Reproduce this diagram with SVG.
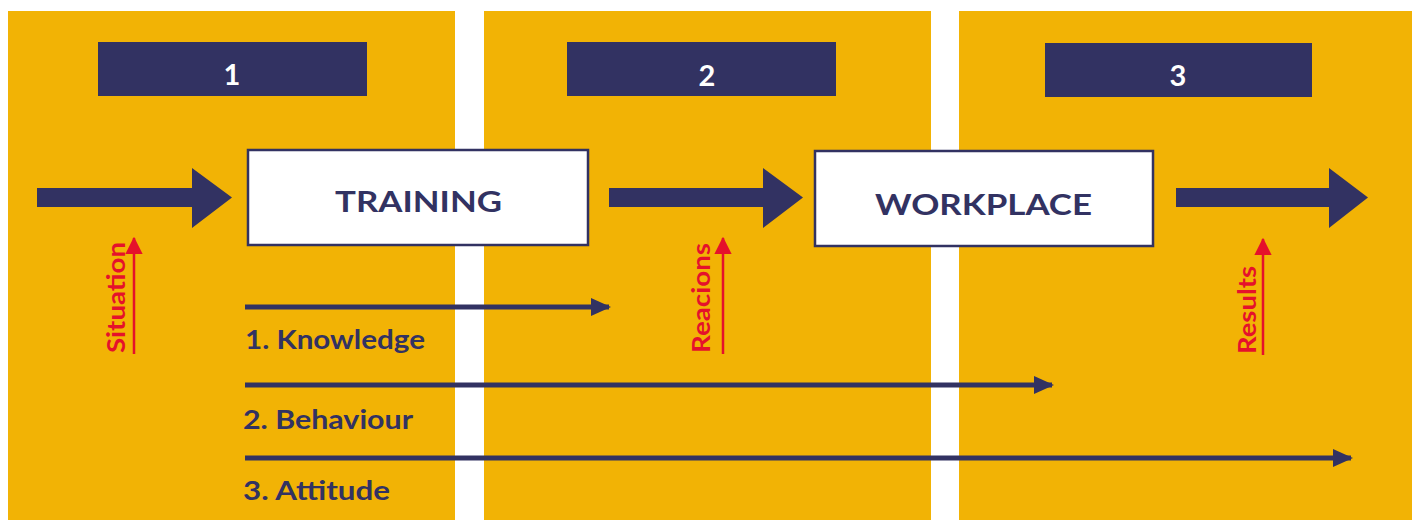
<svg xmlns="http://www.w3.org/2000/svg" width="1414" height="520" viewBox="0 0 1414 520">
<style>
.panel{fill:#F2B305}
.hdr{fill:#323262}
.hdrt{fill:#ffffff;font-family:Lato,"Open Sans",sans-serif;font-weight:700;font-size:29px;text-anchor:middle}
.box{fill:#ffffff;stroke:#323262;stroke-width:2.5}
.boxt{fill:#323262;font-family:Lato,"Open Sans",sans-serif;font-weight:700;font-size:28px}
.big{fill:#323262}
.thin{stroke:#323262;stroke-width:5;fill:none}
.lbl{fill:#323262;font-family:Lato,"Open Sans",sans-serif;font-weight:700;font-size:26px}
.red{stroke:#E5112B;stroke-width:2.5;fill:none}
.redt{fill:#E5112B;font-family:Lato,"Open Sans",sans-serif;font-weight:700;font-size:25px}
</style>
<defs>
<marker id="nav" markerWidth="4" markerHeight="4" refX="3.6" refY="2" orient="auto" markerUnits="strokeWidth">
<path d="M0,0.2 L4,2 L0,3.8 Z" fill="#323262"/>
</marker>
<marker id="redh" markerWidth="7" markerHeight="7" refX="6.5" refY="3.5" orient="auto" markerUnits="strokeWidth">
<path d="M0,0 L7,3.5 L0,7 Z" fill="#E5112B"/>
</marker>
</defs>
<rect width="1414" height="520" fill="#ffffff"/>
<g id="panels">
<rect class="panel" x="8" y="11" width="447" height="509"/>
<rect class="panel" x="484" y="11" width="447" height="509"/>
<rect class="panel" x="959" y="11" width="453" height="509"/>
</g>
<g id="header1"><rect class="hdr" x="98" y="42" width="269" height="54"/><text class="hdrt" x="232" y="85">1</text></g>
<g id="header2"><rect class="hdr" x="567" y="42" width="269" height="54"/><text class="hdrt" x="707" y="86">2</text></g>
<g id="header3"><rect class="hdr" x="1045" y="43" width="267" height="54"/><text class="hdrt" x="1178" y="86">3</text></g>
<g id="training"><rect class="box" x="248" y="150" width="340" height="95"/><text class="boxt" x="335" y="212" textLength="167" lengthAdjust="spacingAndGlyphs">TRAINING</text></g>
<g id="workplace"><rect class="box" x="815" y="151" width="338" height="95"/><text class="boxt" x="875" y="215" textLength="217" lengthAdjust="spacingAndGlyphs">WORKPLACE</text></g>
<g id="connectors">
<path class="big" d="M37,188 H192 V168 L232,197.5 L192,228 V207 H37 Z"/>
<path class="big" d="M609,188 H763 V168 L803,197.5 L763,228 V207 H609 Z"/>
<path class="big" d="M1176,188 H1329 V168 L1368,197.5 L1329,228 V207 H1176 Z"/>
<line class="thin" x1="245" y1="307" x2="609" y2="307" marker-end="url(#nav)"/>
<line class="thin" x1="245" y1="385" x2="1052" y2="385" marker-end="url(#nav)"/>
<line class="thin" x1="245" y1="458" x2="1351" y2="458" marker-end="url(#nav)"/>
<line class="red" x1="134" y1="354" x2="134" y2="238" marker-end="url(#redh)"/>
<line class="red" x1="723" y1="354" x2="723" y2="238" marker-end="url(#redh)"/>
<line class="red" x1="1263" y1="355" x2="1263" y2="239" marker-end="url(#redh)"/>
</g>
<g id="labels">
<text class="lbl" x="245" y="349" textLength="180" lengthAdjust="spacingAndGlyphs">1. Knowledge</text>
<text class="lbl" x="243" y="429" textLength="170" lengthAdjust="spacingAndGlyphs">2. Behaviour</text>
<text class="lbl" x="243" y="500" textLength="147" lengthAdjust="spacingAndGlyphs">3. Attitude</text>
<text class="redt" transform="translate(125,353) rotate(-90)" textLength="111" lengthAdjust="spacingAndGlyphs">Situation</text>
<text class="redt" transform="translate(710,353) rotate(-90)" textLength="110" lengthAdjust="spacingAndGlyphs">Reacions</text>
<text class="redt" transform="translate(1256,354) rotate(-90)" textLength="88" lengthAdjust="spacingAndGlyphs">Results</text>
</g>
</svg>
